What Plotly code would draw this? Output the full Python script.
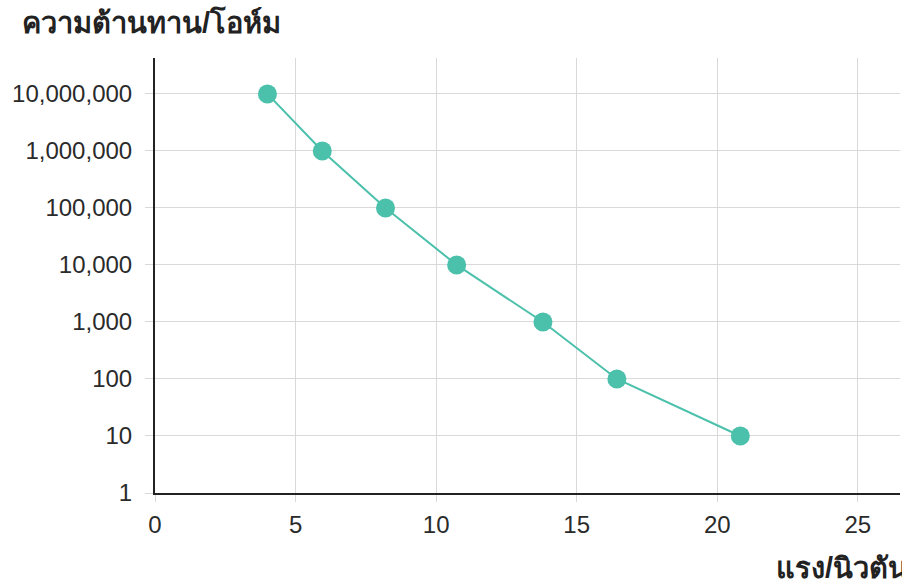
import plotly.graph_objects as go

force_n = [4.0, 5.95, 8.2, 10.73, 13.8, 16.43, 20.82]
resistance_ohm = [10000000, 1000000, 100000, 10000, 1000, 100, 10]
x_ticks = [0, 5, 10, 15, 20, 25]
y_ticks = [1, 10, 100, 1000, 10000, 100000, 1000000, 10000000]
y_tick_text = ["1", "10", "100", "1,000", "10,000", "100,000", "1,000,000", "10,000,000"]
y_title = "ความต้านทาน/โอห์ม"
x_title = "แรง/นิวตัน"

color = "#4bc0ab"
font_family = "Liberation Sans, Arial, sans-serif"

fig = go.Figure()
fig.add_trace(go.Scatter(
    x=force_n, y=resistance_ohm, mode="lines+markers",
    line=dict(color=color, width=2),
    marker=dict(color=color, size=19),
    showlegend=False, cliponaxis=False,
))

fig.update_layout(
    width=902, height=581,
    margin=dict(l=155, r=2, t=58, b=88),
    paper_bgcolor="white", plot_bgcolor="white",
    font=dict(family=font_family, size=24, color="#2a2a2a"),
    xaxis=dict(
        range=[0, 26.5], tickvals=x_ticks, automargin=False,
        showgrid=True, gridcolor="#d9d9d9", gridwidth=1,
        showline=True, linecolor="#222", linewidth=2,
        ticks="outside", ticklen=7, tickcolor="#d9d9d9",
        zeroline=False, ticklabelstandoff=2,
        tickfont=dict(size=24, color="#2a2a2a"),
    ),
    yaxis=dict(
        type="log", range=[0, 7.63], tickvals=y_ticks, ticktext=y_tick_text,
        automargin=False,
        showgrid=True, gridcolor="#d9d9d9", gridwidth=1,
        showline=True, linecolor="#222", linewidth=2,
        ticks="outside", ticklen=8, tickcolor="#d9d9d9",
        zeroline=False, ticklabelstandoff=8,
        tickfont=dict(size=24, color="#2a2a2a"),
    ),
    annotations=[
        dict(text="<b>" + y_title + "</b>", xref="paper", yref="paper",
             x=-135/745, y=1 + 36/435, xanchor="left", yanchor="middle",
             showarrow=False, font=dict(size=29, color="#222", family=font_family)),
        dict(text="<b>" + x_title + "</b>", xref="paper", yref="paper",
             x=(774-155)/745, y=-75/435, xanchor="left", yanchor="middle",
             showarrow=False, font=dict(size=29, color="#222", family=font_family)),
    ],
)

fig.write_html(
    "out.html",
    config={"displayModeBar": False},
    post_script="document.body.style.margin='0';document.body.style.overflow='hidden';",
)
